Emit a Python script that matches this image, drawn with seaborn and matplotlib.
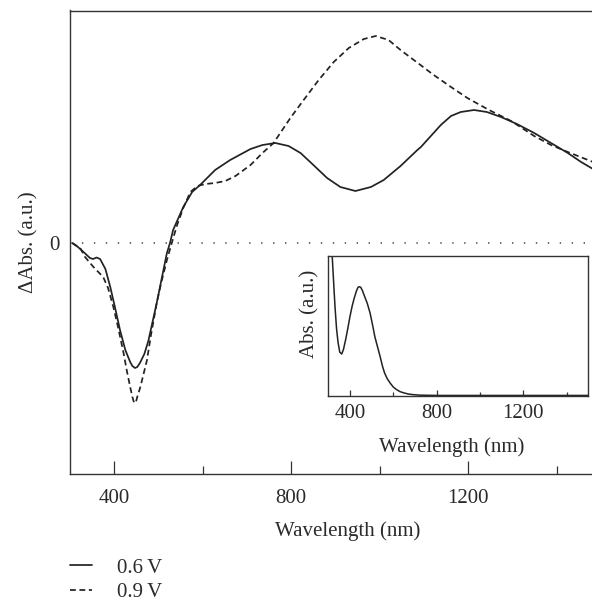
import matplotlib
matplotlib.use("Agg")
import matplotlib.pyplot as plt
import seaborn as sns
import pandas as pd
from matplotlib.ticker import FixedLocator, NullLocator

# ---------------- data ----------------
nm_06 = [305, 318, 333, 345, 352, 360, 368, 380, 391, 402, 413, 425, 436, 441,
         447, 452, 458, 468, 477, 486, 496, 507, 519, 526, 533, 556, 576, 594,
         628, 662, 708, 735, 764, 794, 821, 850, 881, 911, 945, 980, 1009,
         1047, 1085, 1093, 1138, 1161, 1183, 1213, 1242, 1274, 1310, 1349,
         1387, 1425, 1455, 1482, 1500]
abs_06 = [0.00, -0.04, -0.10, -0.15, -0.16, -0.145, -0.16, -0.26, -0.44, -0.65,
          -0.87, -1.07, -1.19, -1.23, -1.25, -1.24, -1.20, -1.11, -0.98, -0.80,
          -0.60, -0.36, -0.10, 0.00, 0.13, 0.36, 0.51, 0.58, 0.73, 0.83, 0.94,
          0.98, 1.00, 0.97, 0.90, 0.78, 0.65, 0.56, 0.52, 0.56, 0.63, 0.77,
          0.93, 0.96, 1.18, 1.27, 1.31, 1.33, 1.31, 1.26, 1.19, 1.10, 1.00,
          0.90, 0.81, 0.74, 0.70]

nm_09 = [305, 323, 334, 353, 375, 386, 398, 409, 421, 429, 436, 441, 445, 449,
         452, 459, 474, 483, 496, 506, 519, 530, 542, 556, 572, 588, 606, 628,
         651, 674, 708, 735, 760, 798, 828, 862, 896, 930, 964, 991, 1020,
         1047, 1122, 1161, 1198, 1247, 1297, 1349, 1387, 1425, 1482, 1500]
abs_09 = [0.00, -0.05, -0.14, -0.24, -0.34, -0.45, -0.64, -0.85, -1.10, -1.29,
          -1.44, -1.54, -1.60, -1.59, -1.54, -1.44, -1.17, -0.92, -0.60, -0.40,
          -0.17, 0.00, 0.18, 0.35, 0.51, 0.57, 0.59, 0.60, 0.62, 0.67, 0.78,
          0.90, 1.00, 1.25, 1.43, 1.63, 1.81, 1.95, 2.04, 2.07, 2.03, 1.93,
          1.68, 1.56, 1.45, 1.33, 1.22, 1.07, 0.98, 0.91, 0.81, 0.79]

# inset: absorption spectrum
nm_abs = [300, 310, 318, 325, 331, 338, 345, 353, 362, 370, 380, 390, 400, 410,
          420, 430, 437, 443, 450, 458, 465, 480, 493, 505, 515, 527, 539, 550,
          560, 572, 585, 600, 615, 630, 647, 670, 690, 724, 800, 1000, 1200,
          1500]
abs_abs = [1.8, 1.35, 1.00, 0.80, 0.635, 0.48, 0.38, 0.31, 0.297, 0.33, 0.40,
           0.48, 0.566, 0.64, 0.70, 0.75, 0.775, 0.78, 0.775, 0.75, 0.72, 0.66,
           0.59, 0.50, 0.42, 0.35, 0.28, 0.21, 0.16, 0.12, 0.09, 0.06, 0.042,
           0.028, 0.019, 0.010, 0.006, 0.002, 0.0, 0.0, 0.0, 0.0]

series_labels = ["0.6\u2009V", "0.9\u2009V"]
main_major = [400, 800, 1200]
main_minor = [600, 1000, 1400]

# ---------------- style ----------------
sns.set_style("white")
plt.rcParams["font.family"] = ["Liberation Serif", "DejaVu Serif"]
plt.rcParams["lines.scale_dashes"] = False
FS = 15
ink = "#222222"
spine_c = "#333333"
txt_c = "#2a2a2a"

df06 = pd.DataFrame({"nm": nm_06, "val": abs_06})
df09 = pd.DataFrame({"nm": nm_09, "val": abs_09})
dfab = pd.DataFrame({"nm": nm_abs, "val": abs_abs})

fig = plt.figure(figsize=(5.92, 6.05), dpi=100)
W, H = 592.0, 605.0

# main axes (its right edge runs slightly past the figure edge)
ax = fig.add_axes([70 / W, 1 - 474 / H, 531 / W, 463.5 / H])
ax.axhline(0, color="#444444", lw=1.1, linestyle=(0, (1.0, 7.6)), zorder=1)
sns.lineplot(data=df06, x="nm", y="val", ax=ax, color=ink, lw=1.25,
             sort=False, estimator=None, label=series_labels[0])
sns.lineplot(data=df09, x="nm", y="val", ax=ax, color=ink, lw=1.25,
             sort=False, estimator=None, label=series_labels[1],
             linestyle=(0, (4.2, 2.6)))
ax.set_xlim(300, 1500)
ax.set_ylim(-2.31, 2.325)
ax.xaxis.set_major_locator(FixedLocator(main_major))
ax.xaxis.set_minor_locator(FixedLocator(main_minor))
ax.set_yticks([0])
ax.set_yticklabels(["0"])
ax.tick_params(axis="x", which="major", bottom=True, direction="in",
               length=9.6, width=0.9, color=spine_c, labelsize=FS, pad=10.5,
               labelcolor=txt_c)
ax.tick_params(axis="x", which="minor", bottom=True, direction="in",
               length=6, width=0.9, color=spine_c)
ax.tick_params(axis="y", which="both", left=False, length=0, labelsize=FS,
               pad=7.5, labelcolor=txt_c)
for s in ["left", "bottom", "top"]:
    ax.spines[s].set_color(spine_c)
    ax.spines[s].set_linewidth(1.0)
ax.spines["right"].set_visible(False)
ax.set_xlabel("Wavelength (nm)", fontsize=FS, color=txt_c)
ax.set_ylabel("\u0394Abs. (a.u.)", fontsize=FS, color=txt_c)
ax.xaxis.set_label_coords(0.5235, -0.102)
ax.yaxis.set_label_coords(-0.059, 0.5)
handles, labels = ax.get_legend_handles_labels()
if ax.get_legend() is not None:
    ax.get_legend().remove()

leg = fig.legend(handles, labels, loc="upper left",
                 bbox_to_anchor=(70 / W, 1 - 558 / H), frameon=False,
                 fontsize=FS, handlelength=1.05, handletextpad=1.2,
                 labelspacing=0.25, borderpad=0, borderaxespad=0)
for t in leg.get_texts():
    t.set_color(txt_c)

# inset axes
ins = fig.add_axes([328.3 / W, 1 - 396 / H, 260 / W, 140 / H])
sns.lineplot(data=dfab, x="nm", y="val", ax=ins, color=ink, lw=1.1,
             sort=False, estimator=None)
ins.set_xlim(300, 1500)
ins.set_ylim(-0.004, 1.0)
ins.xaxis.set_major_locator(FixedLocator(main_major))
ins.xaxis.set_minor_locator(FixedLocator(main_minor))
ins.yaxis.set_major_locator(NullLocator())
ins.tick_params(axis="x", which="major", bottom=True, direction="in",
                length=4, width=0.9, color=spine_c, labelsize=FS, pad=6,
                labelcolor=txt_c)
ins.tick_params(axis="x", which="minor", bottom=True, direction="in",
                length=3, width=0.9, color=spine_c)
ins.tick_params(axis="y", left=False)
for s in ins.spines.values():
    s.set_visible(True)
    s.set_color(spine_c)
    s.set_linewidth(1.0)
ins.set_xlabel("Wavelength (nm)", fontsize=FS, color=txt_c)
ins.set_ylabel("Abs. (a.u.)", fontsize=FS, color=txt_c)
ins.xaxis.set_label_coords(0.4746, -0.295)
ins.yaxis.set_label_coords(-0.035, 0.59)

fig.savefig("out.png", dpi=100)
